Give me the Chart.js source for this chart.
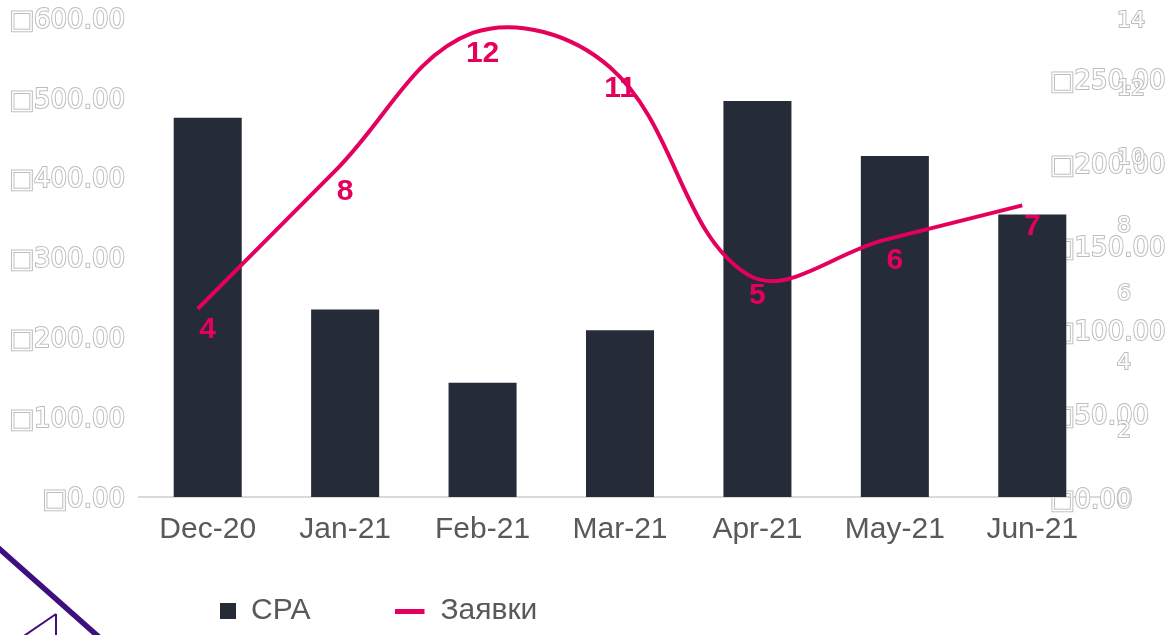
<!DOCTYPE html>
<html><head><meta charset="utf-8">
<script src="https://cdn.jsdelivr.net/npm/chart.js@4.4.0/dist/chart.umd.min.js"></script>
<style>html,body{margin:0;padding:0;background:#fff;overflow:hidden}#wrap{width:1165px;height:635px;position:relative}</style>
</head><body><div id="wrap"><canvas id="c" width="1165" height="635"></canvas></div>
<script>
const categories = ['Dec-20', 'Jan-21', 'Feb-21', 'Mar-21', 'Apr-21', 'May-21', 'Jun-21'];
const cpaValues = [475, 235, 143, 209, 496, 427, 354];
const leadValues = [4, 8, 12, 11, 5, 6, 7];
const leftTickValues = [0, 100, 200, 300, 400, 500, 600];
const leftTickLabels = ['□0.00', '□100.00', '□200.00', '□300.00', '□400.00', '□500.00', '□600.00'];
const rightTickValues = [0, 50, 100, 150, 200, 250];
const rightTickLabels = ['□0.00', '□50.00', '□100.00', '□150.00', '□200.00', '□250.00'];
const countTickValues = [0, 2, 4, 6, 8, 10, 12, 14];
const countTickLabels = ['0', '2', '4', '6', '8', '10', '12', '14'];

const BAR = '#262B38';
const LINE = '#E4005C';
const TEXT = '#595959';
const OUTLINE = '#bdbdbd';
const LEG_PAD = 99;

function markerCanvas(w, h, draw) {
  const c = document.createElement('canvas'); c.width = w; c.height = h;
  draw(c.getContext('2d')); return c;
}
const rectMarker = markerCanvas(16, 16, x => { x.fillStyle = BAR; x.fillRect(0, 0, 16, 16); });
const lineMarker = markerCanvas(44, 5, x => { x.fillStyle = LINE; x.fillRect(0, 0, 29, 5); });

const dataLabels = {
  id: 'dataLabels',
  afterDatasetsDraw(chart) {
    const ctx = chart.ctx;
    const meta = chart.getDatasetMeta(1);
    const xs = chart.scales.x;
    ctx.save();
    ctx.font = 'bold 30px "Liberation Sans", Arial, sans-serif';
    ctx.textAlign = 'center';
    ctx.textBaseline = 'middle';
    ctx.fillStyle = LINE;
    meta.data.forEach((pt, i) => {
      ctx.fillText(String(leadValues[i]), xs.getPixelForValue(i), pt.y + 21);
    });
    ctx.restore();
  }
};

const placeBoxes = {
  id: 'placeBoxes',
  afterLayout(chart) {
    const lg = chart.legend;
    if (lg) {
      lg.left = 220 - LEG_PAD;
      lg.right = 1165;
      lg.top = 596 - LEG_PAD;
      lg.bottom = 635;
      lg.width = lg.right - lg.left;
      lg.height = lg.bottom - lg.top;
    }
    const yR = chart.scales.yR;
    yR.left = 1040; yR.right = 1165; yR.width = yR.right - yR.left;
    const yC = chart.scales.yC;
    yC.left = 1105; yC.right = 1165; yC.width = yC.right - yC.left;
  }
};

const deco = {
  id: 'deco',
  afterDraw(chart) {
    const ctx = chart.ctx;
    ctx.save();
    ctx.strokeStyle = '#3F0F7F';
    ctx.lineCap = 'butt';
    ctx.lineWidth = 5.5;
    ctx.beginPath(); ctx.moveTo(-5, 545); ctx.lineTo(100, 638); ctx.stroke();
    ctx.lineWidth = 2;
    ctx.beginPath(); ctx.moveTo(56, 614); ctx.lineTo(56, 640); ctx.stroke();
    ctx.beginPath(); ctx.moveTo(56, 614); ctx.lineTo(18, 640); ctx.stroke();
    ctx.restore();
  }
};

const outlineTicks = (size, labelsFn, pad) => ({
  color: '#ffffff',
  textStrokeColor: OUTLINE,
  textStrokeWidth: 2,
  padding: pad,
  labelOffset: 3,
  font: { family: '"DejaVu Sans", sans-serif', size: size },
  callback: labelsFn
});
const noPad = s => { s.paddingTop = 0; s.paddingBottom = 0; s.paddingLeft = 0; s.paddingRight = 0; };
const hiddenAxis = {
  grid: { display: false, drawTicks: false },
  border: { display: false },
  ticks: { display: false }
};

new Chart(document.getElementById('c'), {
  type: 'bar',
  data: {
    labels: categories,
    datasets: [
      {
        type: 'bar', label: 'CPA', data: cpaValues, backgroundColor: BAR, borderWidth: 0,
        xAxisID: 'x', yAxisID: 'y', barPercentage: 0.495, categoryPercentage: 1, grouped: false, order: 1
      },
      {
        type: 'line', label: 'Заявки', data: leadValues.map((v, i) => ({ x: i, y: v })),
        xAxisID: 'x2', yAxisID: 'yL', borderColor: LINE, borderWidth: 4, pointRadius: 0,
        tension: 0.38, fill: false, order: 0, clip: false
      }
    ]
  },
  options: {
    responsive: false,
    animation: false,
    devicePixelRatio: 1,
    layout: { padding: { top: 18, left: 0, right: 0, bottom: 0 } },
    plugins: {
      tooltip: { enabled: false },
      legend: {
        position: 'bottom',
        align: 'start',
        maxHeight: 70,
        labels: {
          usePointStyle: true,
          boxWidth: 16,
          boxHeight: 16,
          padding: LEG_PAD,
          color: TEXT,
          font: { family: '"Liberation Sans", Arial, sans-serif', size: 30 },
          generateLabels: () => [
            { text: 'CPA', pointStyle: rectMarker, fillStyle: BAR, strokeStyle: BAR, lineWidth: 0, fontColor: TEXT, hidden: false, datasetIndex: 0 },
            { text: 'Заявки', pointStyle: lineMarker, fillStyle: LINE, strokeStyle: LINE, lineWidth: 0, fontColor: TEXT, hidden: false, datasetIndex: 1 }
          ]
        }
      }
    },
    scales: {
      x: {
        type: 'category', position: 'bottom', offset: true, weight: 0,
        grid: { display: false, drawTicks: false },
        border: { display: true, color: '#d9d9d9', width: 2 },
        ticks: { color: TEXT, padding: 15, maxRotation: 0, autoSkip: false,
          font: { family: '"Liberation Sans", Arial, sans-serif', size: 30 } },
        afterFit(s) { s.height = 68; noPad(s); }
      },
      x2: Object.assign({ type: 'linear', position: 'bottom', weight: 1, offset: false, min: -0.427, max: 6.573,
        afterFit(s) { s.height = 0; noPad(s); } }, hiddenAxis),
      y: {
        type: 'linear', position: 'left', min: 0, max: 600,
        grid: { display: false, drawTicks: false },
        border: { display: false },
        afterBuildTicks(s) { s.ticks = leftTickValues.map(v => ({ value: v })); },
        ticks: outlineTicks(26, (v, i) => leftTickLabels[i], 14),
        afterFit(s) { s.width = 139; noPad(s); }
      },
      yR: {
        type: 'linear', position: 'right', weight: 0, min: 0.6, max: 286.4,
        grid: { display: false, drawTicks: false },
        border: { display: false },
        afterBuildTicks(s) { s.ticks = rightTickValues.map(v => ({ value: v })); },
        ticks: outlineTicks(26, (v, i) => rightTickLabels[i], 10),
        afterFit(s) { s.width = 64; noPad(s); }
      },
      yC: {
        type: 'linear', position: 'right', weight: 1, min: 0, max: 14,
        grid: { display: false, drawTicks: false },
        border: { display: false },
        afterBuildTicks(s) { s.ticks = countTickValues.map(v => ({ value: v })); },
        ticks: outlineTicks(22, (v, i) => countTickLabels[i], 12),
        afterFit(s) { s.width = 0; noPad(s); }
      },
      yL: Object.assign({ type: 'linear', position: 'right', weight: 2, min: -1.45, max: 12.43,
        afterFit(s) { s.width = 0; noPad(s); } }, hiddenAxis)
    }
  },
  plugins: [dataLabels, placeBoxes, deco]
});
</script></body></html>
